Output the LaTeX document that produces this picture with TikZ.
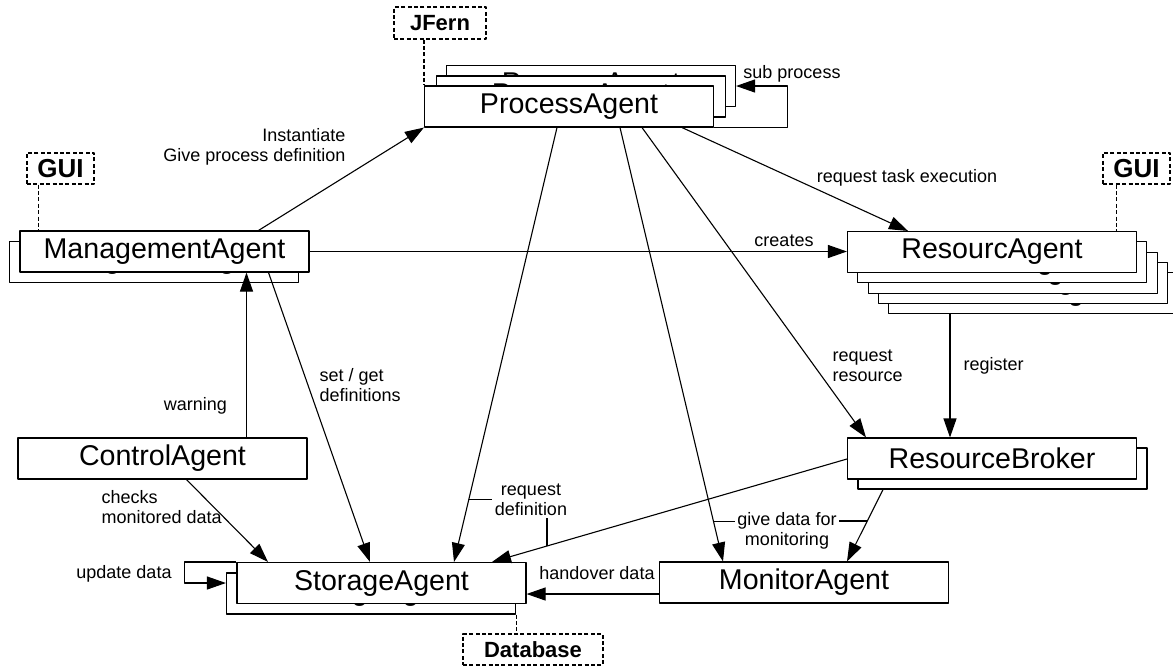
\documentclass[tikz,border=0pt]{standalone}
\usepackage{fontspec}
\setmainfont{Liberation Sans}
\usetikzlibrary{arrows.meta,calc}

\begin{document}
\begin{tikzpicture}[x=0.5pt, y=-0.5pt, line width=0.55pt, line join=round, >={Triangle[length=9.5pt,width=6.5pt]}]
	\tikzset{agent/.style={draw, fill=white, minimum width=144.5pt, minimum height=20.5pt, inner sep=0pt, font=\fontsize{14.3}{16}\selectfont},
		tool/.style={draw, dash pattern=on 2pt off 1.2pt, inner sep=0pt, minimum height=15.5pt, font=\bfseries\fontsize{11}{12}\selectfont},
		toolline/.style={dash pattern=on 2pt off 1.2pt},
		lbl/.style={inner sep=1pt, font=\fontsize{9}{10}\selectfont}}
	\useasboundingbox (0,0) rectangle (1173,666);
	% agents
	\node[agent] (pa2) at (591,86) {ProcessAgent};
	\node[agent] (pa1) at (581,96.5) {ProcessAgent};
	\node[agent] (pa) at (569,106.5) {ProcessAgent};
	\node[agent] (ma1) at (154,262) {ManagementAgent};
	\node[agent] (ma) at (164.5,251.5) {ManagementAgent};
	\foreach \k in {4,3,2,1} \node[agent] (ra\k) at (992+10.3*\k,252+10.3*\k) {ResourcAgent};
	\node[agent] (ra) at (992,252) {ResourcAgent};
	\node[agent] (rb1) at (1002.5,468.5) {ResourceBroker};
	\node[agent] (rb) at (992,458.5) {ResourceBroker};
	\node[agent] (ca) at (162.5,458.5) {ControlAgent};
	\node[agent] (sa1) at (371,593.5) {StorageAgent};
	\node[agent] (sa) at (381.5,583) {StorageAgent};
	\node[agent] (mo) at (804,582.5) {MonitorAgent};
	% tools
	\node[tool, minimum width=46pt, minimum height=16pt] (jf) at (440,23) {JFern};
	\node[tool, minimum width=33.5pt, font=\bfseries\fontsize{13}{14}\selectfont] (gui1) at (60.5,168.5) {GUI};
	\node[tool, minimum width=33.5pt, font=\bfseries\fontsize{13}{14}\selectfont] (gui2) at (1136.5,168.5) {GUI};
	\node[tool, minimum width=70pt] (db) at (533,649.5) {Database};
	\draw[toolline] (jf.south -| pa.north west) -- (pa.north west);
	\coordinate (g1) at ($(ma.north west)+(19,0)$);
	\draw[toolline] (g1 |- gui1.south) -- (g1);
	\coordinate (g2) at ($(ra.north east)+(-21,0)$);
	\draw[toolline] (g2 |- gui2.south) -- (g2);
	\draw[toolline] (sa1.south east) -- (sa1.south east |- db.north);
	% connectors
	\draw[->] ($(ma.north)+(94,0)$) -- (pa.south west);
	\draw[->] (ma.east) -- (ma.east -| ra.west);
	\draw[->] ($(pa.south)+(113,0)$) -- ($(ra.north)+(-84,0)$);
	\draw[->] ($(pa.south)+(-12,0)$) -- coordinate[pos=0.857] (rdh) ($(sa.north)+(72.5,0)$);
	\draw[->] ($(pa.south)+(51,0)$) -- coordinate[pos=0.908] (gdl) ($(mo.north)+(-81,0)$);
	\draw[->] ($(pa.south)+(73,0)$) -- ($(rb.north)+(-126,0)$);
	\coordinate (reg) at ($(rb.north)+(-42,0)$);
	\draw[->] (reg |- ra4.south) -- (reg);
	\draw[->] ($(rb.west)+(0,0.5)$) -- coordinate[pos=0.845] (rdv) ($(sa.north)+(110.5,0)$);
	\draw[->] ($(rb1.south)+(-119.5,0)$) -- coordinate[pos=0.437] (gdr) ($(mo.north)+(43,0)$);
	\coordinate (ho) at ($(mo.west)+(0,11.5)$);
	\draw[->] (ho) -- (ho -| sa.east);
	\draw[->] ($(ca.north)+(84,0)$) coordinate (wa) -- (wa |- ma.south);
	\draw[->] ($(ca.south)+(24,0)$) -- ($(sa.north)+(-113.5,0)$);
	\draw[->] ($(ma.south)+(104,0)$) -- ($(sa.north)+(-11.5,0)$);
	\draw[->] (pa.south east) -- ++(73,0) |- (pa2.east);
	\draw[->] (sa.north west) -- ++(-52,0) |- (sa.west -| sa1.west);
	% labels
	\node[lbl, anchor=east, align=right] (inst) at (348,147) {Instantiate\\Give process definition};
	\node[lbl] (cr) at (784,241) {creates};
	\node[lbl] (rte) at (907,178) {request task execution};
	\node[lbl] (sp) at (792,74) {sub process};
	\node[lbl, anchor=west, align=left] (rr) at (830,366) {request\\resource};
	\node[lbl, anchor=west] (rg) at (961,366) {register};
	\node[lbl] (wn) at (195.5,406) {warning};
	\node[lbl, anchor=west, align=left] (sg) at (317,385.5) {set / get\\definitions};
	\node[lbl, anchor=west, align=left] (cm) at (99,507.5) {checks\\monitored data};
	\node[lbl, align=center] (rd) at (531,499.5) {request\\definition};
	\node[lbl, align=center] (gd) at (787,531) {give data for\\monitoring};
	\node[lbl] (hd) at (597,573) {handover data};
	\node[lbl] (ud) at (124,574) {update data};
	\draw (rdh) -- (rdh -| rd.west);
	\draw (rdv) -- (rdv |- rd.south);
	\draw (gdl) -- (gdl -| gd.west);
	\draw (gdr) -- (gdr -| gd.east);
\end{tikzpicture}
\end{document}
